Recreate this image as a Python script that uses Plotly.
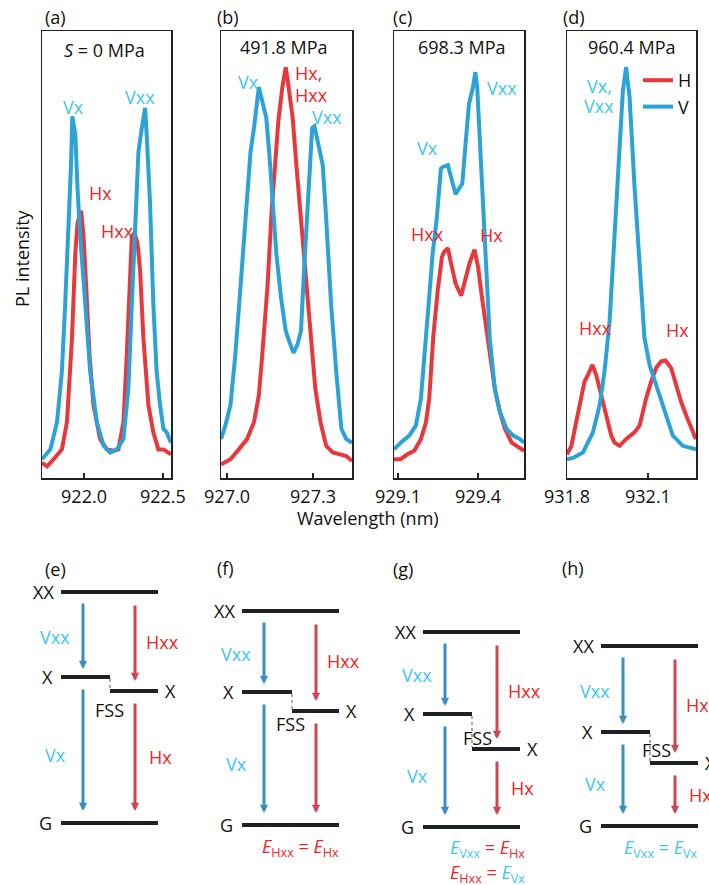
import plotly.graph_objects as go

# ---------------- spectra data: wavelength (nm) and normalised PL intensity ----------------
# (a) S = 0 MPa
wl_a_H = [921.734, 921.766, 921.808, 921.860, 921.892, 921.924, 921.945, 921.959, 921.982, 921.997,
          922.014, 922.035, 922.060, 922.102, 922.145, 922.187, 922.218, 922.250, 922.271, 922.292,
          922.303, 922.320, 922.339, 922.355, 922.376, 922.408, 922.439, 922.471, 922.503, 922.551]
int_a_H = [0.034, 0.026, 0.042, 0.064, 0.125, 0.314, 0.503, 0.571, 0.598, 0.541,
           0.427, 0.276, 0.163, 0.087, 0.064, 0.061, 0.064, 0.125, 0.276, 0.465,
           0.541, 0.548, 0.526, 0.465, 0.314, 0.163, 0.102, 0.064, 0.064, 0.053]
wl_a_V = [921.734, 921.787, 921.829, 921.860, 921.881, 921.902, 921.917, 921.926, 921.945, 921.959,
          921.976, 922.008, 922.039, 922.081, 922.124, 922.166, 922.208, 922.250, 922.281, 922.303,
          922.324, 922.345, 922.366, 922.387, 922.397, 922.418, 922.439, 922.460, 922.482, 922.503,
          922.524, 922.551]
int_a_V = [0.042, 0.064, 0.125, 0.238, 0.390, 0.541, 0.692, 0.809, 0.768, 0.647,
           0.541, 0.390, 0.238, 0.125, 0.072, 0.057, 0.064, 0.087, 0.200, 0.390,
           0.579, 0.730, 0.783, 0.828, 0.768, 0.617, 0.390, 0.238, 0.163, 0.110,
           0.102, 0.079]

# (b) 491.8 MPa
wl_b_H = [926.979, 927.012, 927.041, 927.070, 927.094, 927.111, 927.123, 927.141, 927.156, 927.168,
          927.179, 927.193, 927.205, 927.215, 927.229, 927.243, 927.258, 927.275, 927.293, 927.308,
          927.326, 927.346, 927.369, 927.393, 927.416, 927.436]
int_b_H = [0.030, 0.042, 0.064, 0.087, 0.125, 0.185, 0.276, 0.427, 0.601, 0.692,
           0.798, 0.874, 0.919, 0.874, 0.806, 0.692, 0.579, 0.427, 0.314, 0.200,
           0.125, 0.072, 0.057, 0.053, 0.049, 0.038]
wl_b_V = [926.979, 926.994, 927.012, 927.029, 927.047, 927.065, 927.082, 927.094, 927.111, 927.123,
          927.137, 927.147, 927.158, 927.172, 927.188, 927.205, 927.217, 927.232, 927.246, 927.258,
          927.270, 927.281, 927.297, 927.305, 927.316, 927.334, 927.346, 927.363, 927.381, 927.399,
          927.416, 927.436]
int_b_V = [0.087, 0.117, 0.163, 0.276, 0.427, 0.579, 0.730, 0.783, 0.874, 0.843,
           0.806, 0.730, 0.617, 0.503, 0.405, 0.329, 0.306, 0.280, 0.299, 0.329,
           0.480, 0.617, 0.783, 0.787, 0.753, 0.700, 0.579, 0.390, 0.238, 0.110,
           0.087, 0.079]

# (c) 698.3 MPa
wl_c_H = [929.085, 929.110, 929.135, 929.161, 929.186, 929.205, 929.217, 929.232, 929.249, 929.265,
          929.274, 929.287, 929.299, 929.316, 929.337, 929.353, 929.368, 929.387, 929.400, 929.413,
          929.429, 929.444, 929.463, 929.482, 929.501, 929.526, 929.551, 929.5725]
int_c_H = [0.042, 0.042, 0.053, 0.061, 0.087, 0.125, 0.178, 0.314, 0.420, 0.495,
           0.507, 0.514, 0.480, 0.435, 0.408, 0.450, 0.480, 0.511, 0.473, 0.412,
           0.344, 0.276, 0.200, 0.148, 0.110, 0.079, 0.068, 0.061]
wl_c_V = [929.085, 929.110, 929.142, 929.167, 929.186, 929.198, 929.215, 929.230, 929.245, 929.261,
          929.268, 929.287, 929.299, 929.316, 929.328, 929.341, 929.353, 929.366, 929.381, 929.390,
          929.397, 929.406, 929.416, 929.429, 929.444, 929.463, 929.482, 929.507, 929.532, 929.557,
          929.5725]
int_c_V = [0.064, 0.079, 0.095, 0.117, 0.178, 0.276, 0.390, 0.503, 0.579, 0.692,
           0.696, 0.700, 0.669, 0.635, 0.647, 0.658, 0.745, 0.836, 0.874, 0.908,
           0.874, 0.768, 0.617, 0.465, 0.314, 0.200, 0.148, 0.110, 0.095, 0.087,
           0.079]

# (d) 960.4 MPa
wl_d_H = [931.800, 931.816, 931.834, 931.853, 931.865, 931.878, 931.894, 931.908, 931.927, 931.945,
          931.964, 931.976, 931.995, 932.019, 932.050, 932.069, 932.093, 932.112, 932.130, 932.149,
          932.165, 932.186, 932.204, 932.223, 932.247, 932.278]
int_d_H = [0.053, 0.071, 0.125, 0.178, 0.216, 0.231, 0.253, 0.231, 0.185, 0.140,
           0.095, 0.079, 0.072, 0.087, 0.102, 0.117, 0.178, 0.216, 0.246, 0.261,
           0.263, 0.246, 0.208, 0.170, 0.132, 0.087]
wl_d_V = [931.800, 931.822, 931.859, 931.896, 931.921, 931.939, 931.958, 931.976, 931.995, 932.007,
          932.019, 932.032, 932.050, 932.069, 932.087, 932.106, 932.130, 932.161, 932.192, 932.229,
          932.278]
int_d_V = [0.042, 0.045, 0.057, 0.102, 0.163, 0.238, 0.352, 0.541, 0.768, 0.866,
           0.919, 0.851, 0.654, 0.465, 0.314, 0.253, 0.208, 0.148, 0.095, 0.072,
           0.064]

panel_letters = ["(a)", "(b)", "(c)", "(d)"]
panel_titles = ["<i>S</i> = 0 MPa", "491.8 MPa", "698.3 MPa", "960.4 MPa"]
x_ranges = [[921.734, 922.551], [926.979, 927.436], [929.085, 929.5725], [931.800, 932.278]]
tick_vals = [[922.0, 922.5], [927.0, 927.3], [929.1, 929.4], [931.8, 932.1]]
tick_text = [["922.0", "922.5"], ["927.0", "927.3"], ["929.1", "929.4"], ["931.8", "932.1"]]

# ---------------- energy level diagrams (level energies above G, arbitrary units) ----------------
diag_letters = ["(e)", "(f)", "(g)", "(h)"]
E_XX = [231, 214, 195, 180]
E_XV = [146, 133, 113, 94]
E_XH = [132, 114, 78, 63]

# ---------------- styling / layout ----------------
W, H = 709, 885
FONT = "Open Sans"
FS = 18
RED = "#e8383c"
BLUE = "#2ba2d8"
LBL_CYAN = "#3ec6f2"
LBL_RED = "#ee2626"
ARROW_BLUE = "#3b8ec4"
ARROW_RED = "#cc4654"
LEVEL = "#1d2227"
TXT = "#111111"


def px(x):
    return x / W


def py(y):
    return 1 - y / H


fig = go.Figure()

spectra = [(wl_a_H, int_a_H, wl_a_V, int_a_V), (wl_b_H, int_b_H, wl_b_V, int_b_V),
           (wl_c_H, int_c_H, wl_c_V, int_c_V), (wl_d_H, int_d_H, wl_d_V, int_d_V)]
box_x = [(42, 171), (221, 352), (394, 524), (567, 696)]
box_y = (31, 478)

layout_axes = {}
for i, (wh, ih, wv, iv) in enumerate(spectra):
    sfx = "" if i == 0 else str(i + 1)
    fig.add_trace(go.Scatter(x=wh, y=ih, mode="lines", name="H", line=dict(color=RED, width=4),
                             xaxis="x" + sfx, yaxis="y" + sfx, showlegend=(i == 3)))
    fig.add_trace(go.Scatter(x=wv, y=iv, mode="lines", name="V", line=dict(color=BLUE, width=4),
                             xaxis="x" + sfx, yaxis="y" + sfx, showlegend=(i == 3)))
    layout_axes["xaxis" + sfx] = dict(
        domain=[px(box_x[i][0]), px(box_x[i][1])], range=x_ranges[i], anchor="y" + sfx,
        tickvals=tick_vals[i], ticktext=tick_text[i], ticks="inside", ticklen=5, tickwidth=1.2,
        tickcolor="#222", showline=True, linecolor="#222", linewidth=1.5, mirror=True,
        showgrid=False, zeroline=False, ticklabelstandoff=2, automargin=False,
        tickfont=dict(family=FONT, size=FS, color=TXT))
    layout_axes["yaxis" + sfx] = dict(
        domain=[py(box_y[1]), py(box_y[0])], range=[0, 1], anchor="x" + sfx,
        showticklabels=False, ticks="", showline=True, linecolor="#222", linewidth=1.5,
        mirror=True, showgrid=False, zeroline=False, automargin=False)

fig.update_layout(**layout_axes)


def txt(x, y, s, color=TXT, size=FS, xanchor="center", **kw):
    fig.add_annotation(x=px(x), y=py(y), xref="paper", yref="paper", text=s, showarrow=False,
                       font=dict(family=FONT, size=size, color=color), xanchor=xanchor,
                       yanchor="middle", **kw)


# panel letters and titles
letter_x = [55, 228, 402, 574]
title_x = [104, 284, 462, 632]
title_y = [50, 47, 47, 47]
for i in range(4):
    txt(letter_x[i], 17, panel_letters[i])
    txt(title_x[i], title_y[i], panel_titles[i])

# peak labels
txt(73, 107, "Vx", LBL_CYAN)
txt(140, 97, "Vxx", LBL_CYAN)
txt(100, 193, "Hx", LBL_RED)
txt(117, 231, "Hxx", LBL_RED)

txt(248, 82, "Vx", LBL_CYAN)
txt(293, 73, "Hx,", LBL_RED, xanchor="left")
txt(293, 95, "Hxx", LBL_RED, xanchor="left")
txt(327, 117, "Vxx", LBL_CYAN)

txt(428, 148, "Vx", LBL_CYAN)
txt(502, 88, "Vxx", LBL_CYAN)
txt(428, 234, "Hxx", LBL_RED)
txt(491, 235, "Hx", LBL_RED)

txt(599, 86, "Vx,", LBL_CYAN)
txt(599, 106, "Vxx", LBL_CYAN)
txt(595, 328, "Hxx", LBL_RED)
txt(677, 330, "Hx", LBL_RED)

# axis titles
txt(22, 258, "PL intensity", textangle=-90)
txt(368, 518, "Wavelength (nm)")

# ---------------- energy level diagrams ----------------
diag_left = [61, 242, 423, 601]
diag_w = 97
ground_y = [823, 825, 827, 826]
step_x = [110, 292, 472, 650]
fss_pos = [(109, 710), (290, 724), (478, 738), (656, 750)]
letter_pos = [(55, 569), (225, 568), (403, 569), (573, 568)]
show_hx = [True, False, True, True]


def hline(x0, x1, y, color=LEVEL, width=4, dash=None):
    fig.add_shape(type="line", xref="paper", yref="paper", x0=px(x0), x1=px(x1), y0=py(y), y1=py(y),
                  line=dict(color=color, width=width, dash=dash))


def vline(x, y0, y1, color="#555", width=1, dash="dot"):
    fig.add_shape(type="line", xref="paper", yref="paper", x0=px(x), x1=px(x), y0=py(y0), y1=py(y1),
                  line=dict(color=color, width=width, dash=dash))


def arrow(x, y_start, y_end, color):
    fig.add_annotation(x=px(x), y=py(y_end), xref="paper", yref="paper", text="", showarrow=True,
                       ax=0, ay=y_start - y_end, axref="pixel", ayref="pixel", arrowhead=2,
                       arrowsize=0.55, arrowwidth=3, arrowcolor=color, standoff=0, startstandoff=0)


for i in range(4):
    L = diag_left[i]
    R = L + diag_w
    g = ground_y[i]
    yXX = g - E_XX[i]
    yXV = g - E_XV[i]
    yXH = g - E_XH[i]
    sx = step_x[i]
    xv = L + 22
    xh = L + 74

    txt(letter_pos[i][0], letter_pos[i][1], diag_letters[i])

    hline(L, R, yXX)
    hline(L, sx, yXV)
    hline(sx, R, yXH)
    hline(L, R, g)
    vline(sx, yXV + 2, yXH - 2)

    txt(L - 5, yXX, "XX", xanchor="right")
    txt(L - 6, yXV, "X", xanchor="right")
    txt(R + 5, yXH, "X", xanchor="left")
    txt(L - 7, g, "G", xanchor="right")
    txt(fss_pos[i][0], fss_pos[i][1], "FSS")

    arrow(xv, yXX + 10, yXV - 8, ARROW_BLUE)
    arrow(xh, yXX + 12, yXH - 10, ARROW_RED)
    arrow(xv, yXV + 11, g - 12, ARROW_BLUE)
    arrow(xh, yXH + 11, g - 12, ARROW_RED)

    txt(xv - 28, (yXX + yXV) / 2 + 2, "Vxx", LBL_CYAN)
    txt(xv - 28, (yXV + g) / 2 + 5, "Vx", LBL_CYAN)
    txt(xh + 27, (yXX + yXH) / 2, "Hxx", LBL_RED, xanchor="center")
    if show_hx[i]:
        txt(xh + 25, (yXH + g) / 2, "Hx", LBL_RED)

# equality notes
txt(300, 847, "<i>E</i><sub>Hxx</sub> = <i>E</i><sub>Hx</sub>", LBL_RED)
txt(487, 848, "<span style='color:%s'><i>E</i><sub>Vxx</sub></span> = <i>E</i><sub>Hx</sub>" % LBL_CYAN,
    LBL_RED)
txt(487, 873, "<i>E</i><sub>Hxx</sub> = <span style='color:%s'><i>E</i><sub>Vx</sub></span>" % LBL_CYAN,
    LBL_RED)
txt(660, 848, "<i>E</i><sub>Vxx</sub> = <i>E</i><sub>Vx</sub>", LBL_CYAN)

fig.update_layout(
    width=W, height=H, margin=dict(l=0, r=0, t=0, b=0, pad=0, autoexpand=False),
    paper_bgcolor="white", plot_bgcolor="white",
    font=dict(family=FONT, size=FS, color=TXT),
    legend=dict(x=px(638), y=py(62), xanchor="left", yanchor="top", bgcolor="rgba(0,0,0,0)",
                font=dict(family=FONT, size=FS, color=TXT), itemwidth=30, tracegroupgap=0,
                borderwidth=0),
)

fig.write_html("out.html", config={"displayModeBar": False, "staticPlot": True},
               post_script="document.body.style.margin='0';document.body.style.overflow='hidden';")
